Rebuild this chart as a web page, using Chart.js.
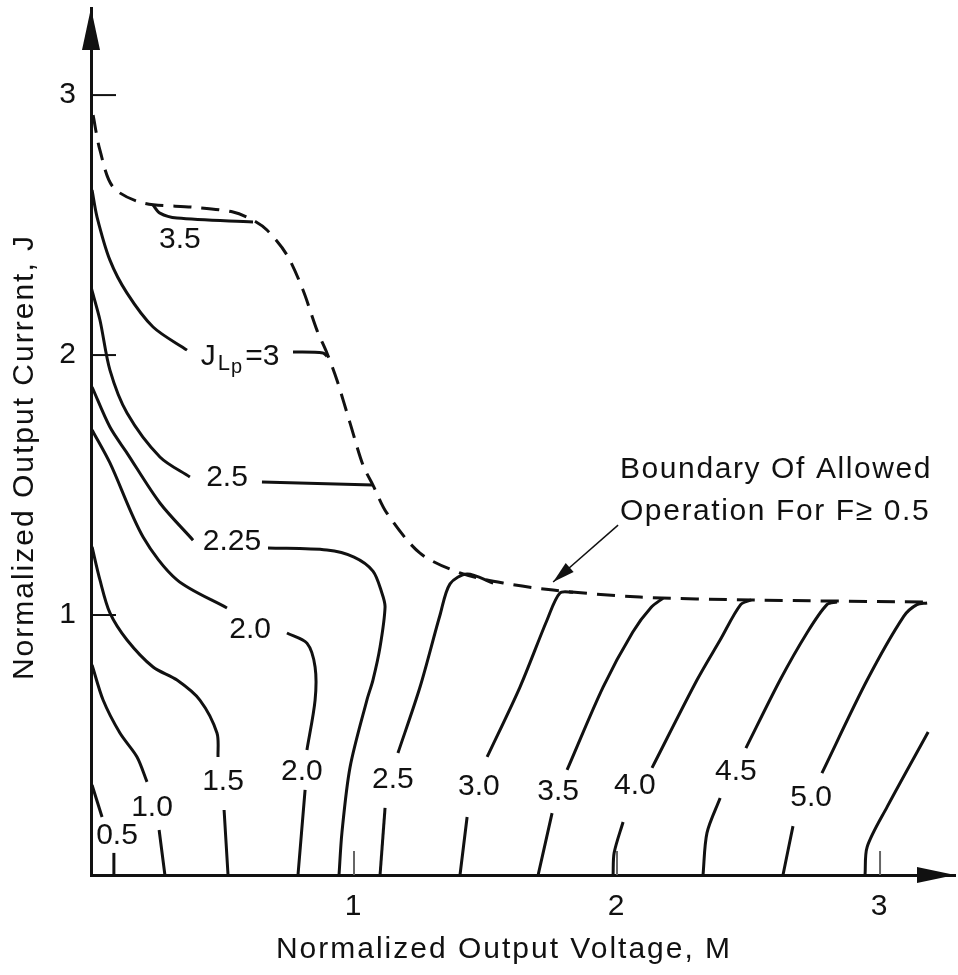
<!DOCTYPE html>
<html>
<head>
<meta charset="utf-8">
<script src="https://cdn.jsdelivr.net/npm/chart.js@4.4.0/dist/chart.umd.min.js"></script>
<style>
  html, body { margin: 0; padding: 0; background: #fff; }
  canvas { display: block; }
</style>
</head>
<body>
<canvas id="chart" width="958" height="975"></canvas>
<script>
// all points are [M, J]
const xTicks = [1, 2, 3];
const yTicks = [1, 2, 3];

// boundary of allowed operation for F >= 0.5 (dashed)
const boundary = [[0.008,2.923],[0.034,2.788],[0.084,2.646],[0.198,2.585],[0.388,2.569],[0.540,2.550],
  [0.616,2.519],[0.669,2.481],[0.745,2.385],[0.806,2.250],[0.859,2.096],[0.897,2.008],[0.935,1.904],
  [0.985,1.738],[1.034,1.577],[1.072,1.500],[1.125,1.392],[1.251,1.238],[1.403,1.162],[1.567,1.123],
  [1.757,1.096],[2.087,1.069],[2.517,1.058],[3.179,1.050]];

// constant J_Lp curves, split where the labels sit
const jlp35a = [[0.236,2.577],[0.262,2.546],[0.327,2.527],[0.616,2.512]];
const jlp30a = [[0.004,2.635],[0.023,2.531],[0.072,2.365],[0.137,2.238],[0.236,2.108],[0.365,2.019]];
const jlp30b = [[0.768,2.012],[0.882,2.008],[0.897,1.995]];
const jlp25a = [[0.000,2.262],[0.034,2.135],[0.072,1.942],[0.137,1.777],[0.262,1.608],[0.376,1.531]];
const jlp25b = [[0.650,1.512],[1.072,1.500]];
const jlp225a = [[0.004,1.877],[0.072,1.723],[0.137,1.623],[0.262,1.431],[0.388,1.288]];
const jlp225b = [[0.673,1.258],[0.897,1.250],[1.000,1.223],[1.072,1.169],[1.106,1.085],[1.118,1.031],
  [1.099,0.877],[1.072,0.750],[1.049,0.673],[0.985,0.415],[0.954,0.162],[0.943,0]];
const jlp20a = [[0.004,1.712],[0.072,1.585],[0.198,1.300],[0.327,1.135],[0.517,1.027]];
const jlp20b = [[0.745,0.931],[0.821,0.892],[0.852,0.800],[0.852,0.673],[0.821,0.481]];
const jlp20c = [[0.814,0.327],[0.787,0]];
const jlp15a = [[0.004,1.262],[0.034,1.135],[0.072,1.008],[0.137,0.904],[0.236,0.800],[0.327,0.750],
  [0.414,0.673],[0.479,0.546],[0.483,0.454]];
const jlp15b = [[0.506,0.250],[0.521,0]];
const jlp10a = [[0.004,0.808],[0.046,0.673],[0.110,0.546],[0.175,0.454],[0.213,0.358]];
const jlp10b = [[0.259,0.173],[0.281,0]];
const jlp05a = [[0.004,0.346],[0.042,0.223]];
const jlp05b = [[0.087,0.085],[0.087,0]];
const jlp25c = [[1.529,1.123],[1.430,1.158],[1.365,1.120],[1.327,1.000],[1.251,0.723],[1.167,0.469]];
const jlp25d = [[1.118,0.258],[1.099,0]];
const jlp30c = [[1.833,1.088],[1.783,1.085],[1.734,0.981],[1.631,0.723],[1.506,0.454]];
const jlp30d = [[1.430,0.223],[1.403,0]];
const jlp35b = [[2.175,1.065],[2.130,1.030],[2.060,0.935],[1.947,0.723],[1.810,0.404]];
const jlp35c = [[1.753,0.238],[1.700,0]];
const jlp40a = [[2.510,1.058],[2.470,1.040],[2.392,0.904],[2.304,0.750],[2.133,0.412]];
const jlp40b = [[2.023,0.204],[1.989,0.085],[1.985,0]];
const jlp45a = [[2.836,1.050],[2.798,1.040],[2.722,0.931],[2.620,0.750],[2.490,0.488]];
const jlp45b = [[2.392,0.296],[2.342,0.162],[2.327,0]];
const jlp50a = [[3.179,1.046],[3.140,1.040],[3.090,0.995],[2.951,0.750],[2.779,0.392]];
const jlp50b = [[2.669,0.188],[2.631,0]];
const jlp55a = [[3.183,0.550],[3.027,0.262],[2.951,0.108],[2.943,0]];

// curve labels and where they sit
const labelText = ['3.5', 'J_Lp=3', '2.5', '2.25', '2.0', '2.0', '1.5', '1.0', '0.5',
  '2.5', '3.0', '3.5', '4.0', '4.5', '5.0'];
const labelM = [0.338, 0.567, 0.517, 0.536, 0.605, 0.802, 0.502, 0.232, 0.099,
  1.148, 1.475, 1.776, 2.068, 2.452, 2.738];
const labelJ = [2.442, 1.992, 1.527, 1.281, 0.942, 0.396, 0.358, 0.258, 0.150,
  0.365, 0.338, 0.319, 0.342, 0.396, 0.296];

const noteLines = ['Boundary Of Allowed', 'Operation For F\u2265 0.5'];
const noteAt = [2.011, 1.558];
const noteArrow = [[2.004, 1.346], [1.757, 1.127]];

const ink = '#111';
const font = '"Liberation Sans", Arial, sans-serif';

const solidCurves = [jlp35a, jlp30a, jlp30b, jlp25a, jlp25b, jlp225a, jlp225b, jlp20a, jlp20b, jlp20c,
  jlp15a, jlp15b, jlp10a, jlp10b, jlp05a, jlp05b, jlp25c, jlp25d, jlp30c, jlp30d, jlp35b, jlp35c,
  jlp40a, jlp40b, jlp45a, jlp45b, jlp50a, jlp50b, jlp55a];

const toPts = arr => arr.map(([m, j]) => ({ x: m, y: j }));

const datasets = solidCurves.map(c => ({
  data: toPts(c),
  showLine: true,
  borderColor: ink,
  borderWidth: 3,
  pointRadius: 0,
  tension: 0.3
}));
datasets.push({
  data: toPts(boundary),
  showLine: true,
  borderColor: ink,
  borderWidth: 3,
  borderDash: [18, 10],
  pointRadius: 0,
  tension: 0.3
});

function arrowHead(ctx, tipX, tipY, dx, dy, len, half) {
  const n = Math.hypot(dx, dy);
  const ux = dx / n, uy = dy / n;
  const bx = tipX - ux * len, by = tipY - uy * len;
  ctx.beginPath();
  ctx.moveTo(tipX, tipY);
  ctx.lineTo(bx - uy * half, by + ux * half);
  ctx.lineTo(bx + uy * half, by - ux * half);
  ctx.closePath();
  ctx.fill();
}

const figurePlugin = {
  id: 'figure',
  beforeLayout(chart) { chart.ctx.letterSpacing = '2px'; },
  beforeDraw(chart) { chart.ctx.letterSpacing = '2px'; },
  afterDraw(chart) {
    const { ctx, chartArea: a, scales: { x, y } } = chart;
    ctx.save();
    ctx.fillStyle = ink;
    ctx.strokeStyle = ink;

    // tick marks point into the plot
    ctx.lineWidth = 2;
    yTicks.forEach(v => {
      const p = y.getPixelForValue(v);
      ctx.beginPath(); ctx.moveTo(a.left, p); ctx.lineTo(a.left + 25, p); ctx.stroke();
    });
    ctx.strokeStyle = '#666';
    xTicks.forEach(v => {
      const p = x.getPixelForValue(v);
      ctx.beginPath(); ctx.moveTo(p, a.bottom); ctx.lineTo(p, a.bottom - 24); ctx.stroke();
    });

    // axis arrows
    arrowHead(ctx, a.left, a.top, 0, -1, 42, 9);
    arrowHead(ctx, a.right, a.bottom, 1, 0, 38, 8);

    // curve labels
    ctx.letterSpacing = '0px';
    ctx.textBaseline = 'middle';
    labelText.forEach((t, i) => {
      const px = x.getPixelForValue(labelM[i]);
      const py = y.getPixelForValue(labelJ[i]);
      if (t === 'J_Lp=3') {
        const parts = [['J', 30, 0, 2], ['L', 22, 7, 1], ['p', 20, 10, 3], ['=3', 30, 0, 0]];
        let w = 0;
        parts.forEach(([s, sz, , gap]) => { ctx.font = sz + 'px ' + font; w += ctx.measureText(s).width + gap; });
        let cx = px - w / 2;
        ctx.textAlign = 'left';
        parts.forEach(([s, sz, off, gap]) => {
          ctx.font = sz + 'px ' + font;
          ctx.fillText(s, cx, py + off);
          cx += ctx.measureText(s).width + gap;
        });
      } else {
        ctx.font = '30px ' + font;
        ctx.textAlign = 'center';
        ctx.fillText(t, px, py);
      }
    });

    // boundary note with arrow
    ctx.font = '30px ' + font;
    ctx.letterSpacing = '1.6px';
    ctx.textAlign = 'left';
    const nx = x.getPixelForValue(noteAt[0]);
    const ny = y.getPixelForValue(noteAt[1]);
    noteLines.forEach((t, i) => ctx.fillText(t, nx, ny + i * 42));
    const [f, t] = noteArrow.map(([m, j]) => [x.getPixelForValue(m), y.getPixelForValue(j)]);
    ctx.lineWidth = 1.5;
    ctx.strokeStyle = ink;
    ctx.beginPath(); ctx.moveTo(f[0], f[1]); ctx.lineTo(t[0], t[1]); ctx.stroke();
    arrowHead(ctx, t[0], t[1], t[0] - f[0], t[1] - f[1], 22, 6);

    // axis titles
    ctx.letterSpacing = '2px';
    ctx.textAlign = 'center';
    ctx.fillText('Normalized Output Voltage, M', 504, 950);
    ctx.translate(25, 457);
    ctx.rotate(-Math.PI / 2);
    ctx.fillText('Normalized Output Current, J', 0, 0);
    ctx.restore();
  }
};

Chart.defaults.font.family = font;
Chart.defaults.font.size = 30;
Chart.defaults.color = ink;

// keep the plot box fixed: no extra room for overhanging tick labels
const noOverhang = s => { s.paddingTop = 0; s.paddingBottom = 0; s.paddingLeft = 0; s.paddingRight = 0; };

new Chart(document.getElementById('chart').getContext('2d'), {
  type: 'scatter',
  data: { datasets },
  options: {
    responsive: false,
    animation: false,
    devicePixelRatio: 1,
    layout: { padding: { top: 8, right: 3, left: 0, bottom: 0 } },
    plugins: { legend: { display: false }, tooltip: { enabled: false } },
    scales: {
      x: {
        type: 'linear',
        min: 0,
        max: 3.285,
        afterBuildTicks: s => { s.ticks = xTicks.map(v => ({ value: v })); },
        afterFit: s => { s.height = 100; noOverhang(s); },
        ticks: { color: ink, padding: 14 },
        grid: { display: false, drawTicks: false },
        border: { color: ink, width: 3 }
      },
      y: {
        type: 'linear',
        min: 0,
        max: 3.335,
        afterBuildTicks: s => { s.ticks = yTicks.map(v => ({ value: v })); },
        afterFit: s => { s.width = 91; noOverhang(s); },
        ticks: { color: ink, padding: 13 },
        grid: { display: false, drawTicks: false },
        border: { color: ink, width: 3 }
      }
    }
  },
  plugins: [figurePlugin]
});
</script>
</body>
</html>
